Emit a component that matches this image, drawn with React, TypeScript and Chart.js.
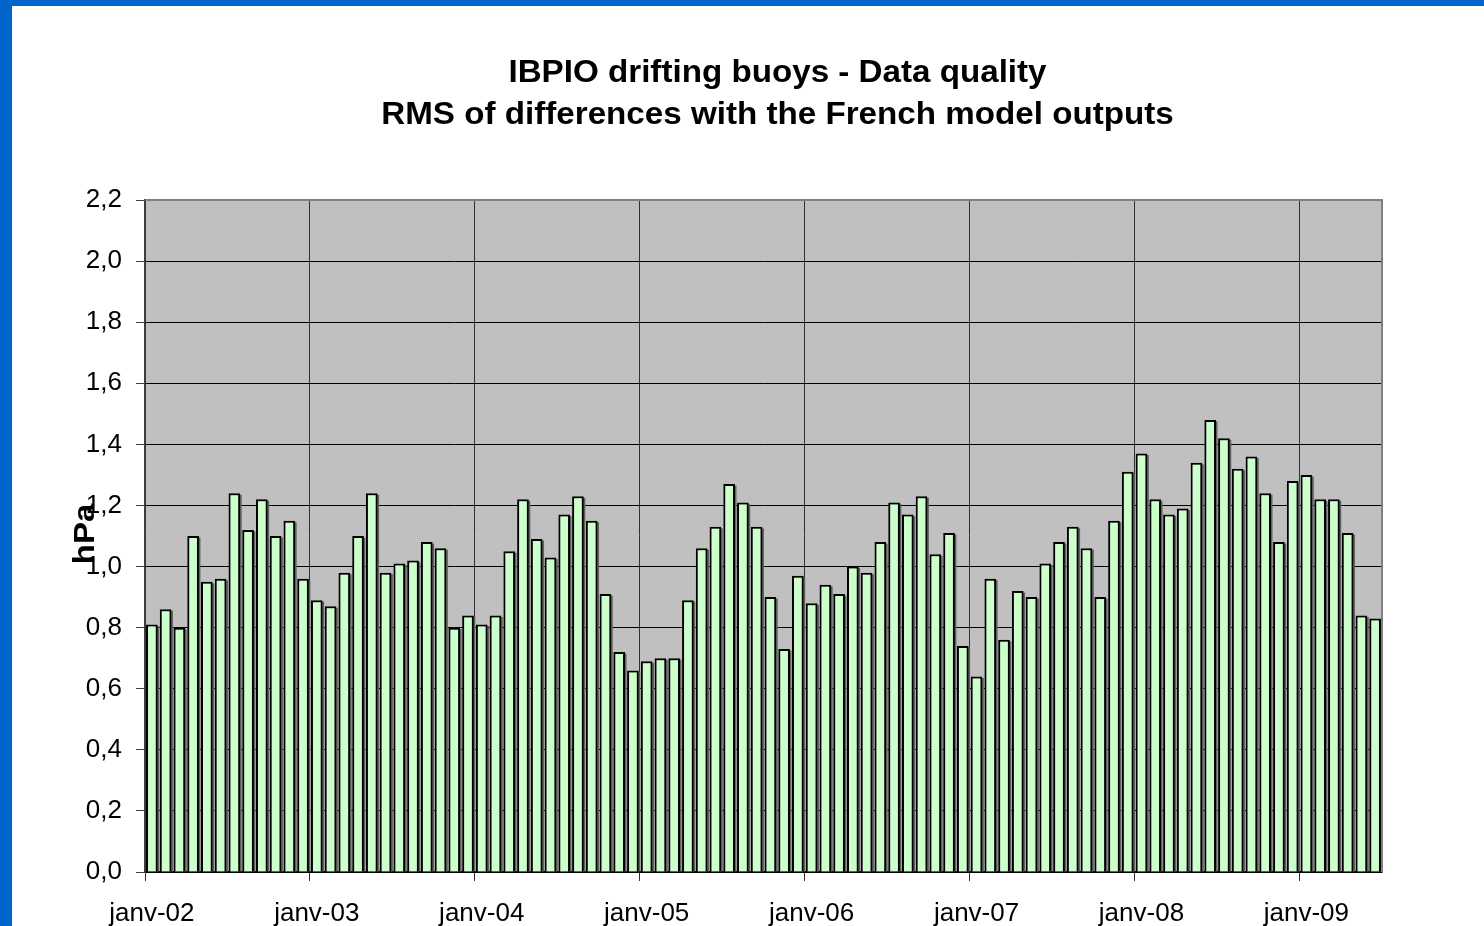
import React, { useEffect, useRef } from 'react';
import { Chart, registerables } from 'chart.js';

Chart.register(...registerables);

// ---- data ----
const monthNames = ['janv', 'févr', 'mars', 'avr', 'mai', 'juin', 'juil', 'août', 'sept', 'oct', 'nov', 'déc'];
const yearSuffixes = ['02', '03', '04', '05', '06', '07', '08', '09'];

const rmsValues = [
  0.81, 0.86, 0.80, 1.10, 0.95, 0.96, 1.24, 1.12, 1.22, 1.10, 1.15, 0.96, // 2002
  0.89, 0.87, 0.98, 1.10, 1.24, 0.98, 1.01, 1.02, 1.08, 1.06, 0.80, 0.84, // 2003
  0.81, 0.84, 1.05, 1.22, 1.09, 1.03, 1.17, 1.23, 1.15, 0.91, 0.72, 0.66, // 2004
  0.69, 0.70, 0.70, 0.89, 1.06, 1.13, 1.27, 1.21, 1.13, 0.90, 0.73, 0.97, // 2005
  0.88, 0.94, 0.91, 1.00, 0.98, 1.08, 1.21, 1.17, 1.23, 1.04, 1.11, 0.74, // 2006
  0.64, 0.96, 0.76, 0.92, 0.90, 1.01, 1.08, 1.13, 1.06, 0.90, 1.15, 1.31, // 2007
  1.37, 1.22, 1.17, 1.19, 1.34, 1.48, 1.42, 1.32, 1.36, 1.24, 1.08, 1.28, // 2008
  1.30, 1.22, 1.22, 1.11, 0.84, 0.83, // 2009
];

const titleLines = ['IBPIO drifting buoys - Data quality', 'RMS of differences with the French model outputs'];
const yAxisTitle = 'hPa';
const yMin = 0;
const yMax = 2.2;
const yStep = 0.2;

const categories = yearSuffixes
  .flatMap((y) => monthNames.map((m) => `${m}-${y}`))
  .slice(0, rmsValues.length);

const FONT = '"Liberation Sans", Arial, Helvetica, sans-serif';

export default function App() {
  const canvasRef = useRef<HTMLCanvasElement | null>(null);

  useEffect(() => {
    const canvas = canvasRef.current;
    if (!canvas) return;

    const plotBg = {
      id: 'plotBg',
      beforeDraw(chart: any) {
        const { ctx, chartArea: a } = chart;
        ctx.save();
        ctx.fillStyle = '#C0C0C0';
        ctx.fillRect(a.left, a.top, a.right - a.left, a.bottom - a.top);
        ctx.restore();
      },
    };

    const barShadow = {
      id: 'barShadow',
      beforeDatasetsDraw(chart: any) {
        const { ctx } = chart;
        const meta = chart.getDatasetMeta(0);
        ctx.save();
        ctx.fillStyle = '#606060';
        meta.data.forEach((el: any) => {
          const { x, y, base, width } = el.getProps(['x', 'y', 'base', 'width'], true);
          ctx.fillRect(x - width / 2 + 1.5, y + 1.5, width, base - y - 1.5);
        });
        ctx.restore();
      },
    };

    const decor = {
      id: 'decor',
      afterDraw(chart: any) {
        const { ctx, chartArea: a } = chart;
        ctx.save();
        // grey frame top and right
        ctx.strokeStyle = '#808080';
        ctx.lineWidth = 2;
        ctx.beginPath();
        ctx.moveTo(a.left, a.top);
        ctx.lineTo(a.right, a.top);
        ctx.lineTo(a.right, a.bottom);
        ctx.stroke();

        // title
        ctx.fillStyle = '#000';
        ctx.font = `bold 31px ${FONT}`;
        ctx.textAlign = 'center';
        ctx.textBaseline = 'alphabetic';
        titleLines.forEach((t, i) => {
          ctx.save();
          ctx.translate(777.5, 82 + i * 42);
          ctx.scale(1.07, 1);
          ctx.fillText(t, 0, 0);
          ctx.restore();
        });

        // y-axis title
        ctx.save();
        ctx.translate(86, 534);
        ctx.rotate(-Math.PI / 2);
        ctx.scale(1.1, 1);
        ctx.font = `bold 30px ${FONT}`;
        ctx.textAlign = 'center';
        ctx.textBaseline = 'middle';
        ctx.fillText(yAxisTitle, 0, 0);
        ctx.restore();
        ctx.restore();
      },
    };

    const yearLineColor = (c: any) =>
      typeof c.index === 'number' && c.index % 12 === 0 ? '#303030' : 'rgba(0,0,0,0)';

    const chart = new Chart(canvas, {
      type: 'bar',
      data: {
        labels: categories,
        datasets: [
          {
            data: rmsValues,
            backgroundColor: '#CCFFCC',
            borderColor: '#000000',
            borderWidth: 2,
            barPercentage: 0.85,
            categoryPercentage: 1,
          },
        ],
      },
      options: {
        animation: false,
        responsive: true,
        maintainAspectRatio: false,
        layout: { padding: { top: 200, right: 102, bottom: 0, left: 0 } },
        plugins: {
          legend: { display: false },
          title: { display: false },
          tooltip: { enabled: false },
        },
        scales: {
          x: {
            type: 'category',
            offset: true,
            grid: {
              offset: true,
              color: yearLineColor,
              tickColor: yearLineColor,
              lineWidth: 1,
              tickLength: 9,
              drawTicks: true,
            },
            border: { color: '#000', width: 1.5 },
            ticks: {
              autoSkip: false,
              maxRotation: 0,
              minRotation: 0,
              padding: 17,
              color: '#000',
              font: { family: FONT, size: 26 },
              callback: (_v: any, i: number) => (i % 12 === 0 ? categories[i] : ''),
            },
            afterFit: (s: any) => {
              s.height = 54;
            },
          },
          y: {
            min: yMin,
            max: yMax,
            ticks: {
              stepSize: yStep,
              padding: 14,
              color: '#000',
              font: { family: FONT, size: 26 },
              callback: (v: any) => Number(v).toFixed(1).replace('.', ','),
            },
            grid: {
              color: '#000000',
              tickColor: '#404040',
              tickLength: 9,
              lineWidth: 1,
            },
            border: { color: '#404040', width: 1.5 },
            afterFit: (s: any) => {
              s.width = 145;
            },
          },
        },
      } as any,
      plugins: [plotBg, barShadow, decor],
    });

    return () => chart.destroy();
  }, []);

  return (
    <div style={{ position: 'absolute', left: 0, top: 0, width: 1484, height: 926, background: '#fff', overflow: 'hidden' }}>
      <div style={{ position: 'absolute', left: 0, top: 0, width: 12, height: 926, background: '#0066CC' }} />
      <div style={{ position: 'absolute', left: 0, top: 0, width: 1484, height: 6, background: '#0066CC' }} />
      <div style={{ position: 'absolute', left: 0, top: 0, width: 1484, height: 926 }}>
        <canvas ref={canvasRef} />
      </div>
    </div>
  );
}
